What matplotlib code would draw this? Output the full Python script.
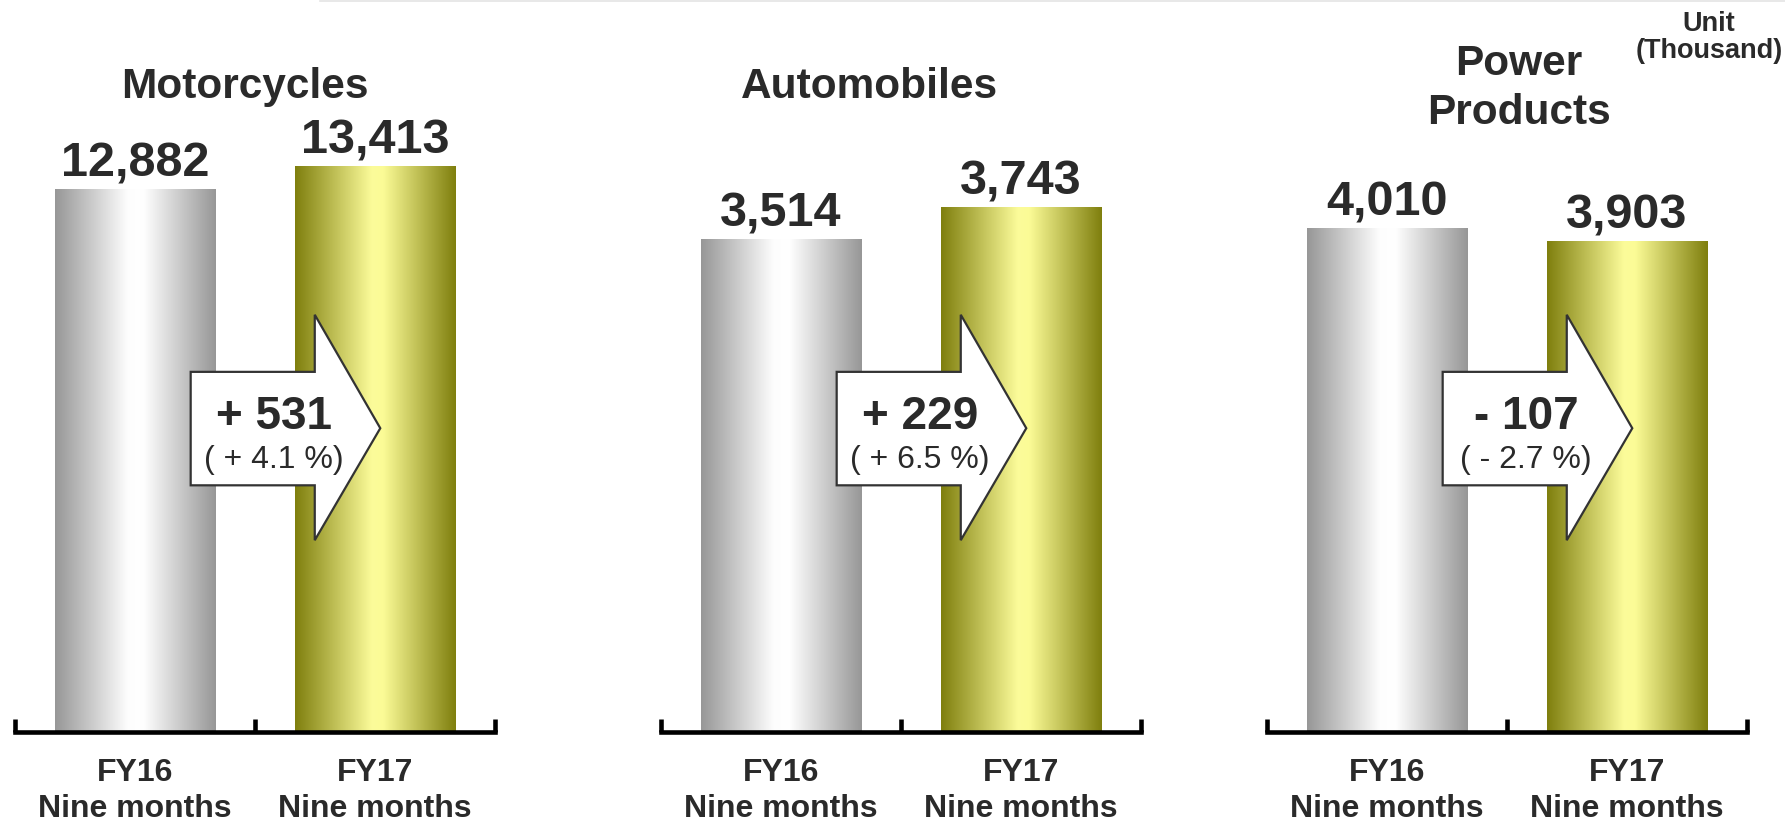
import numpy as np
import matplotlib
matplotlib.use("Agg")
import matplotlib.pyplot as plt
import matplotlib.transforms as mtransforms
from matplotlib.colors import LinearSegmentedColormap
from matplotlib.patches import Polygon
from matplotlib.lines import Line2D

plt.rcParams["font.family"] = ["Liberation Sans", "DejaVu Sans"]

# data (thousand units)
segments = ["Motorcycles", "Automobiles", "Power\nProducts"]
periods = ["FY16\nNine months", "FY17\nNine months"]
fy16 = [12882, 3514, 4010]
fy17 = [13413, 3743, 3903]
change = [531, 229, -107]
change_pct = [4.1, 6.5, -2.7]

W, H = 1785, 824
TXT = "#2a2a2a"

# layout in pixels of the original slide
panel_left = [15, 661, 1267]
panel_width = 480
axis_y = 732
ytop = [17354, 5218, 5821]
title_pos = [(245, 98), (869, 98), (1519, 75)]

grey_cmap = LinearSegmentedColormap.from_list(
    "grey", [(0, "#979797"), (0.45, "#fdfdfd"), (0.55, "#ffffff"), (1, "#979797")])
olive_cmap = LinearSegmentedColormap.from_list(
    "olive", [(0, "#7f7f0e"), (0.48, "#fcfc9a"), (0.55, "#fbfb96"), (1, "#7f7f0e")])
grad = np.linspace(0, 1, 256).reshape(1, -1)

fig = plt.figure(figsize=(W / 100, H / 100), dpi=100)

# faint rule at the very top of the slide
fig.add_artist(Line2D([320 / W, 1], [1 - 1 / H, 1 - 1 / H],
                      color="#e4e4e4", lw=1.2, transform=fig.transFigure))

for i, name in enumerate(segments):
    ax = fig.add_axes([panel_left[i] / W, (H - axis_y) / H,
                       panel_width / W, axis_y / H])
    vals = [fy16[i], fy17[i]]
    bars = ax.bar([0, 1], vals, width=0.67, facecolor="none",
                  edgecolor="none", zorder=1)
    for bar, cmap in zip(bars, [grey_cmap, olive_cmap]):
        x0, w, h = bar.get_x(), bar.get_width(), bar.get_height()
        im = ax.imshow(grad, extent=[x0, x0 + w, 0, h], aspect="auto",
                       cmap=cmap, zorder=1, interpolation="bicubic")
        im.set_clip_path(bar)
        ax.annotate(f"{h:,.0f}", xy=(x0 + w / 2, h), xytext=(0, 9),
                    textcoords="offset points", ha="center", va="baseline",
                    fontsize=35, fontweight="bold", color=TXT)

    ax.set_xlim(-0.5, 1.5)
    ax.set_ylim(0, ytop[i])
    for s in ["left", "right", "top"]:
        ax.spines[s].set_visible(False)
    ax.spines["bottom"].set_linewidth(3.3)
    ax.spines["bottom"].set_color("black")
    ax.set_yticks([])
    ax.set_xticks([0, 1])
    ax.set_xticklabels(periods, fontsize=23, fontweight="bold", color=TXT,
                       linespacing=1.25)
    ax.tick_params(axis="x", which="major", length=0, pad=19)
    ax.set_xticks([-0.5, 0.5, 1.5], minor=True)
    ax.tick_params(axis="x", which="minor", direction="in", length=9.5,
                   width=3.3, color="black")
    ax.patch.set_alpha(0)

    # change arrow
    tr = mtransforms.blended_transform_factory(ax.transData, ax.transAxes)
    pts = [(0.232, 0.337), (0.749, 0.337), (0.749, 0.262), (1.022, 0.415),
           (0.749, 0.570), (0.749, 0.492), (0.232, 0.492)]
    ax.add_patch(Polygon(pts, closed=True, facecolor="white",
                         edgecolor="#333333", lw=1.6, transform=tr, zorder=3))
    sign = "+" if change[i] >= 0 else "-"
    ax.text(0.58, 0.414, f"{sign} {abs(change[i])}", transform=tr,
            ha="center", va="baseline", fontsize=33, fontweight="bold",
            color=TXT, zorder=4)
    ax.text(0.58, 0.361, f"( {sign} {abs(change_pct[i]):.1f} %)", transform=tr,
            ha="center", va="baseline", fontsize=23, color=TXT, zorder=4)

    # segment title
    tx, ty = title_pos[i]
    for k, line in enumerate(name.split("\n")):
        fig.text(tx / W, 1 - (ty + 49 * k) / H, line, ha="center",
                 va="baseline", fontsize=30.5, fontweight="bold", color=TXT)

fig.text(1709 / W, 1 - 31 / H, "Unit", ha="center", va="baseline",
         fontsize=19.5, fontweight="bold", color=TXT)
fig.text(1709 / W, 1 - 58 / H, "(Thousand)", ha="center", va="baseline",
         fontsize=19.5, fontweight="bold", color=TXT)

fig.savefig("out.png", dpi=100)
